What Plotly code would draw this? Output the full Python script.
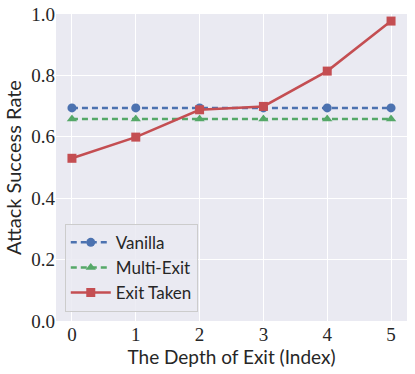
import plotly.graph_objects as go

depth = [0, 1, 2, 3, 4, 5]
vanilla = [0.694, 0.694, 0.694, 0.694, 0.694, 0.694]
multi_exit = [0.658, 0.658, 0.658, 0.658, 0.658, 0.658]
exit_taken = [0.530, 0.599, 0.688, 0.699, 0.814, 0.977]

fig = go.Figure()
fig.add_trace(go.Scatter(
    x=depth, y=vanilla, name="Vanilla", mode="lines+markers",
    line=dict(color="#4C72B0", width=2.5, dash="6px,4px"),
    marker=dict(symbol="circle", size=9),
))
fig.add_trace(go.Scatter(
    x=depth, y=multi_exit, name="Multi-Exit", mode="lines+markers",
    line=dict(color="#55A868", width=2.5, dash="6px,4px"),
    marker=dict(symbol="triangle-up", size=9),
))
fig.add_trace(go.Scatter(
    x=depth, y=exit_taken, name="Exit Taken", mode="lines+markers",
    line=dict(color="#C44E52", width=2.5),
    marker=dict(symbol="square", size=9),
))

fig.update_layout(
    width=415, height=374,
    margin=dict(l=56, r=8, t=14, b=53),
    paper_bgcolor="white",
    plot_bgcolor="#EAEAF2",
    font=dict(family="Liberation Serif", color="#262626"),
    legend=dict(
        x=0.025, y=0.03, xanchor="left", yanchor="bottom",
        bgcolor="rgba(234,234,242,0.85)", bordercolor="#CCCCCC", borderwidth=1,
        font=dict(family="Lato", size=17),
        itemwidth=40,
    ),
    xaxis=dict(
        range=[-0.25, 5.25], tickvals=depth, showgrid=True, gridcolor="white",
        gridwidth=1, zeroline=False, ticks="", tickfont=dict(size=19),
        automargin=False,
        title=dict(text="The Depth of Exit (Index)", font=dict(family="Lato", size=19), standoff=2),
    ),
    yaxis=dict(
        range=[0, 1], tickvals=[0, 0.2, 0.4, 0.6, 0.8, 1.0],
        ticktext=["0.0", "0.2", "0.4", "0.6", "0.8", "1.0"],
        showgrid=True, gridcolor="white", gridwidth=1, zeroline=False, ticks="",
        tickfont=dict(size=19), automargin=False,
        title=dict(text="Attack Success Rate", font=dict(family="Lato", size=20), standoff=4),
    ),
)

fig.write_html("out.html", config={"displayModeBar": False},
               post_script="document.body.style.margin='0';")
